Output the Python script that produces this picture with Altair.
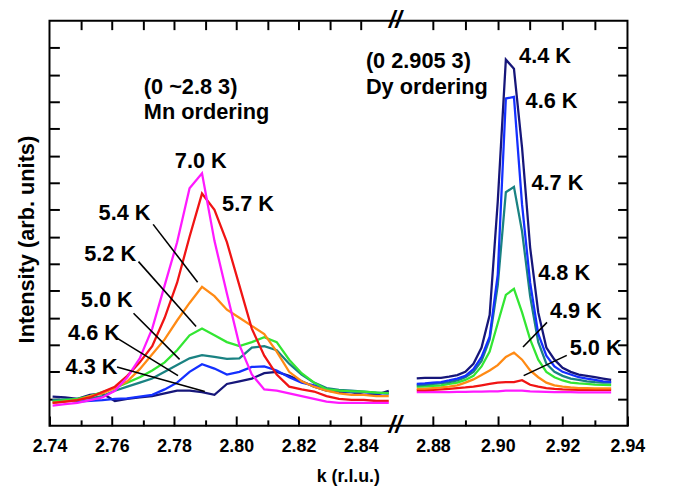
import altair as alt
import pandas as pd

FONT = "Liberation Sans"

# ---------------- data ----------------
# Left block: (0 ~2.8 3) Mn ordering
k_mn = [2.741, 2.745, 2.749, 2.753, 2.757, 2.761, 2.765, 2.769, 2.773, 2.777,
        2.781, 2.785, 2.789, 2.793, 2.797, 2.801, 2.805, 2.809, 2.813, 2.817,
        2.821, 2.825, 2.829, 2.833, 2.837, 2.841, 2.845, 2.849]
mn_4_3 = [1.08, 1.05, 1.00, 1.15, 1.20, 0.92, 1.00, 1.05, 1.10, 1.20, 1.30, 1.30, 1.25, 1.15,
          1.55, 1.65, 1.75, 1.95, 2.00, 1.85, 1.65, 1.45, 1.30, 1.25, 1.25, 1.15, 1.15, 1.30]
mn_4_6 = [0.95, 0.95, 0.90, 0.92, 0.95, 1.00, 1.02, 1.08, 1.15, 1.35, 1.60, 2.00, 2.28, 2.12,
          1.90, 2.00, 2.18, 2.20, 2.05, 1.80, 1.60, 1.50, 1.35, 1.30, 1.25, 1.25, 1.20, 1.20]
mn_5_0 = [0.95, 0.98, 1.00, 1.02, 1.10, 1.30, 1.45, 1.60, 1.75, 2.00, 2.25, 2.50, 2.62, 2.55,
          2.48, 2.50, 2.90, 2.95, 2.80, 2.30, 1.90, 1.60, 1.40, 1.33, 1.30, 1.27, 1.23, 1.20]
mn_5_2 = [0.90, 0.95, 1.00, 1.10, 1.25, 1.40, 1.60, 1.80, 2.05, 2.35, 2.80, 3.35, 3.60, 3.35,
          3.10, 2.95, 3.10, 3.28, 3.10, 2.45, 1.95, 1.60, 1.35, 1.30, 1.28, 1.27, 1.23, 1.21]
mn_5_4 = [0.85, 0.90, 0.95, 1.10, 1.20, 1.40, 1.65, 2.10, 2.65, 3.20, 3.90, 4.55, 5.15, 4.80,
          4.30, 4.00, 3.70, 3.40, 2.75, 2.00, 1.65, 1.45, 1.30, 1.20, 1.15, 1.15, 1.10, 1.10]
mn_5_7 = [0.85, 0.90, 0.95, 1.05, 1.25, 1.45, 1.85, 2.35, 2.95, 4.00, 5.30, 7.00, 8.60, 8.00,
          6.80, 5.20, 3.60, 2.60, 1.90, 1.45, 1.35, 1.27, 1.10, 1.00, 0.96, 0.96, 0.92, 0.92]
mn_7_0 = [0.75, 0.80, 0.85, 0.95, 1.05, 1.30, 1.80, 2.50, 3.60, 5.20, 6.80, 8.80, 9.35, 6.85,
          4.90, 3.00, 1.90, 1.35, 1.30, 1.20, 1.10, 1.00, 0.90, 0.85, 0.85, 0.85, 0.85, 0.85]

# Right block: (0 2.905 3) Dy ordering
k_dy = [2.875, 2.8775, 2.880, 2.8825, 2.885, 2.8875, 2.890, 2.8925, 2.895, 2.8975,
        2.900, 2.9025, 2.905, 2.9075, 2.910, 2.9125, 2.915, 2.9175, 2.920, 2.9225,
        2.925, 2.9275, 2.930, 2.9325, 2.935]
dy_4_4 = [1.76, 1.78, 1.78, 1.78, 1.82, 1.88, 2.00, 2.30, 2.90, 4.10, 8.30, 13.56, 13.22,
          10.30, 6.60, 4.20, 2.90, 2.45, 2.15, 2.00, 1.90, 1.85, 1.80, 1.75, 1.70]
dy_4_6 = [1.55, 1.57, 1.60, 1.62, 1.68, 1.75, 1.85, 2.10, 2.55, 3.30, 5.60, 12.12, 12.18,
          8.20, 5.30, 3.40, 2.60, 2.20, 2.00, 1.90, 1.80, 1.75, 1.70, 1.65, 1.63]
dy_4_7 = [1.50, 1.52, 1.55, 1.58, 1.62, 1.68, 1.80, 2.00, 2.40, 3.20, 5.20, 8.65, 8.85,
          7.20, 4.80, 3.10, 2.30, 2.00, 1.85, 1.75, 1.70, 1.65, 1.62, 1.60, 1.60]
dy_4_8 = [1.45, 1.46, 1.48, 1.50, 1.55, 1.60, 1.70, 1.85, 2.20, 2.75, 3.80, 4.85, 5.07,
          4.20, 3.20, 2.45, 2.00, 1.80, 1.68, 1.60, 1.57, 1.55, 1.53, 1.52, 1.51]
dy_4_9 = [1.38, 1.38, 1.40, 1.42, 1.45, 1.50, 1.60, 1.72, 1.88, 2.05, 2.25, 2.55, 2.71,
          2.45, 2.05, 1.80, 1.60, 1.50, 1.45, 1.42, 1.40, 1.40, 1.39, 1.39, 1.39]
dy_5_0 = [1.32, 1.32, 1.33, 1.35, 1.37, 1.40, 1.42, 1.45, 1.50, 1.55, 1.60, 1.62, 1.62,
          1.69, 1.52, 1.45, 1.40, 1.37, 1.35, 1.34, 1.33, 1.33, 1.33, 1.33, 1.33]
dy_7_0 = [1.25, 1.25, 1.25, 1.25, 1.25, 1.26, 1.26, 1.27, 1.27, 1.28, 1.28, 1.30, 1.30,
          1.30, 1.28, 1.27, 1.26, 1.25, 1.25, 1.25, 1.24, 1.24, 1.24, 1.24, 1.24]

series_names = ["Mn 4.3 K", "Mn 4.6 K", "Mn 5.0 K", "Mn 5.2 K", "Mn 5.4 K", "Mn 5.7 K", "Mn 7.0 K",
                "Dy 7.0 K", "Dy 5.0 K", "Dy 4.9 K", "Dy 4.8 K", "Dy 4.7 K", "Dy 4.6 K", "Dy 4.4 K"]
series_values = [mn_4_3, mn_4_6, mn_5_0, mn_5_2, mn_5_4, mn_5_7, mn_7_0,
                 dy_7_0, dy_5_0, dy_4_9, dy_4_8, dy_4_7, dy_4_6, dy_4_4]
series_colors = ["#16167a", "#1430ff", "#1a8282", "#33e633", "#ff8a14", "#f01414", "#ff1aff",
                 "#ff1aff", "#f01414", "#ff8a14", "#33e633", "#1a8282", "#1430ff", "#16167a"]

# temperature labels: text, panel, k, intensity
lab_text = ["7.0 K", "5.7 K", "5.4 K", "5.2 K", "5.0 K", "4.6 K", "4.3 K",
            "4.4 K", "4.6 K", "4.7 K", "4.8 K", "4.9 K", "5.0 K"]
lab_panel = ["Mn"] * 7 + ["Dy"] * 6
lab_k = [2.7886, 2.8038, 2.7641, 2.7595, 2.7584, 2.7543, 2.7535,
         2.9146, 2.9166, 2.9184, 2.9205, 2.9241, 2.9302]
lab_v = [9.81, 8.20, 7.87, 6.37, 4.65, 3.44, 2.16,
         13.68, 12.04, 8.98, 5.67, 4.26, 2.89]

# leader lines: panel, k1, v1, k2, v2
lead_panel = ["Mn", "Mn", "Mn", "Mn", "Mn", "Dy", "Dy"]
lead_k1 = [2.7733, 2.7686, 2.7670, 2.7617, 2.7617, 2.9152, 2.9213]
lead_v1 = [7.46, 6.08, 4.17, 3.25, 2.18, 3.83, 2.61]
lead_k2 = [2.7876, 2.7871, 2.7818, 2.7813, 2.7899, 2.9078, 2.9080]
lead_v2 = [5.32, 3.68, 2.46, 1.86, 1.27, 2.92, 1.86]

# block headings
head_text = ["(0 ~2.8 3)", "Mn ordering", "(0 2.905 3)", "Dy ordering"]
head_panel = ["Mn", "Mn", "Dy", "Dy"]
head_k = [2.7703, 2.7703, 2.8593, 2.8593]
head_v = [12.55, 11.62, 13.50, 12.55]

# axis ticks
major_ticks = [2.74, 2.76, 2.78, 2.80, 2.82, 2.84, 2.88, 2.90, 2.92, 2.94]
minor_ticks = [2.75, 2.77, 2.79, 2.81, 2.83, 2.89, 2.91, 2.93]
top_ticks = [2.75, 2.76, 2.77, 2.78, 2.79, 2.80, 2.81, 2.82, 2.83, 2.84,
             2.88, 2.89, 2.90, 2.91, 2.92, 2.93]
y_ticks = [1, 2, 3, 4, 5, 6, 7, 8, 9, 10, 11, 12, 13, 14]

# broken axis geometry
R_OFFSET = 2.8632     # display position of k = 2.88
R_STRETCH = 1.041     # right block is drawn slightly wider per r.l.u.
BREAK_X = 2.8511
X_DOMAIN = [2.74, 2.9257]
Y_DOMAIN = [0, 15]


def disp(k, panel):
    return k if panel == "Mn" else R_OFFSET + (k - 2.88) * R_STRETCH


def disp_tick(k):
    return disp(k, "Mn" if k < 2.86 else "Dy")


rows = []
for name, vals in zip(series_names, series_values):
    panel = name.split()[0]
    ks = k_mn if panel == "Mn" else k_dy
    for k, v in zip(ks, vals):
        rows.append({"series": name, "k": k, "xd": disp(k, panel), "v": v})
df = pd.DataFrame(rows)

lab_df = pd.DataFrame({"text": lab_text,
                       "xd": [disp(k, p) for k, p in zip(lab_k, lab_panel)],
                       "v": lab_v})
lead_df = pd.DataFrame({"x1": [disp(k, p) for k, p in zip(lead_k1, lead_panel)],
                        "x2": [disp(k, p) for k, p in zip(lead_k2, lead_panel)],
                        "y1": lead_v1, "y2": lead_v2})
head_df = pd.DataFrame({"text": head_text,
                        "xd": [disp(k, p) for k, p in zip(head_k, head_panel)],
                        "v": head_v})
brk_df = pd.DataFrame({"xd": [BREAK_X]})

xscale = alt.Scale(domain=X_DOMAIN, nice=False, zero=False)
yscale = alt.Scale(domain=Y_DOMAIN, nice=False, zero=False)

label_expr = (f"datum.value < 2.86 ? format(datum.value, '.2f') : "
              f"format(2.88 + (datum.value - {R_OFFSET}) / {R_STRETCH}, '.2f')")

common_tick = dict(domain=False, grid=False, tickColor="black", tickWidth=2)

axis_bottom_major = alt.Axis(
    orient="bottom", values=[disp_tick(t) for t in major_ticks], labelExpr=label_expr,
    tickSize=10, offset=-10, labelPadding=12, labelFont=FONT, labelFontSize=18,
    labelFontWeight="bold", labelColor="black", labelFlush=False, labelOverlap=False,
    title="k (r.l.u.)", titleFont=FONT, titleFontSize=18, titleFontWeight="bold",
    titleColor="black", titleX=302, titleY=66, titleAlign="center",
    titleBaseline="alphabetic", **common_tick)
axis_bottom_minor = alt.Axis(
    orient="bottom", values=[disp_tick(t) for t in minor_ticks], tickSize=6, offset=-6,
    labels=False, title=None, **common_tick)
axis_top = alt.Axis(
    orient="top", values=[disp_tick(t) for t in top_ticks], tickSize=9, offset=-9,
    labels=False, title=None, **common_tick)
axis_left = alt.Axis(
    orient="left", values=y_ticks, tickSize=10, offset=-10, labels=False,
    title="Intensity (arb. units)", titleFont=FONT, titleFontSize=22, titleFontWeight="bold",
    titleColor="black", titleX=-33, titleY=221, titleAlign="center", titleBaseline="middle",
    **common_tick)
axis_right = alt.Axis(
    orient="right", values=y_ticks, tickSize=10, offset=-10, labels=False, title=None,
    **common_tick)

lines = alt.Chart(df).mark_line(strokeWidth=2.3, clip=True).encode(
    x=alt.X("xd:Q", scale=xscale, axis=axis_bottom_major),
    y=alt.Y("v:Q", scale=yscale, axis=axis_left),
    color=alt.Color("series:N", scale=alt.Scale(domain=series_names, range=series_colors),
                    legend=None),
)

labels = alt.Chart(lab_df).mark_text(
    font=FONT, fontSize=22, fontWeight="bold", color="black", align="center", baseline="middle"
).encode(
    x=alt.X("xd:Q", scale=xscale, axis=axis_bottom_minor),
    y=alt.Y("v:Q", scale=yscale, axis=axis_right),
    text="text:N",
)

leaders = alt.Chart(lead_df).mark_rule(color="black", strokeWidth=1.6).encode(
    x=alt.X("x1:Q", scale=xscale, axis=axis_top),
    x2="x2:Q",
    y=alt.Y("y1:Q", scale=yscale, axis=None),
    y2="y2:Q",
)

heads = alt.Chart(head_df).mark_text(
    font=FONT, fontSize=22, fontWeight="bold", color="black", align="left", baseline="middle"
).encode(
    x=alt.X("xd:Q", scale=xscale, axis=None),
    y=alt.Y("v:Q", scale=yscale, axis=None),
    text="text:N",
)

brk_top = alt.Chart(brk_df).mark_text(
    text="//", font=FONT, fontSize=24, fontWeight="bold", fontStyle="italic",
    color="black", align="center", baseline="middle"
).encode(x=alt.X("xd:Q", scale=xscale, axis=None), y=alt.value(0))
brk_bot = alt.Chart(brk_df).mark_text(
    text="//", font=FONT, fontSize=24, fontWeight="bold", fontStyle="italic",
    color="black", align="center", baseline="middle"
).encode(x=alt.X("xd:Q", scale=xscale, axis=None), y=alt.value(410))

chart = alt.layer(lines, labels, leaders, heads, brk_top, brk_bot).resolve_axis(
    x="independent", y="independent"
).properties(
    width=585, height=410,
    autosize=alt.AutoSizeParams(type="none"),
    padding={"left": 42, "top": 10, "right": 40, "bottom": 59},
    background="white",
).configure_view(stroke="black", strokeWidth=2)

chart.save("out.html", embed_options={"renderer": "svg", "actions": False})
